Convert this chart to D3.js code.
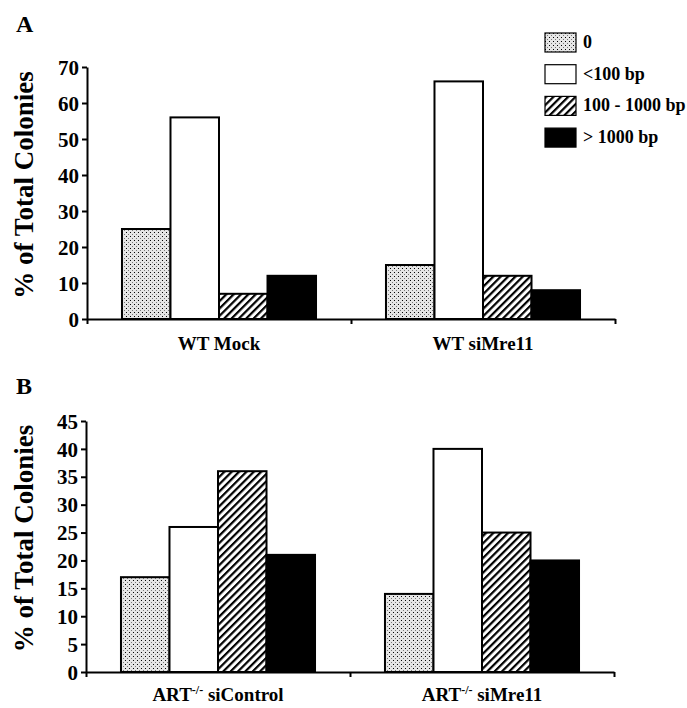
<!DOCTYPE html>
<html>
<head>
<meta charset="utf-8">
<script src="https://cdn.jsdelivr.net/npm/d3@7"></script>
<style>
  body { margin: 0; background: #fff; }
  svg text { font-family: "Liberation Serif", "Times New Roman", serif; font-weight: bold; fill: #000; }
</style>
</head>
<body>
<div class="chart-container"></div>
<script>
// Data
const seriesNames = ["0", "<100 bp", "100 - 1000 bp", "> 1000 bp"];
const seriesFills = ["url(#dots)", "#fff", "url(#hatch)", "#000"];

const categoriesA = ["WT Mock", "WT siMre11"];
const wtMock = [25, 56, 7, 12];
const wtSiMre11 = [15, 66, 12, 8];
const ticksA = [0, 10, 20, 30, 40, 50, 60, 70];

const categoriesB = ["ART-/- siControl", "ART-/- siMre11"];
const artSiControl = [17, 26, 36, 21];
const artSiMre11 = [14, 40, 25, 20];
const ticksB = [0, 5, 10, 15, 20, 25, 30, 35, 40, 45];

const width = 687;
const height = 708;

const svg = d3
  .select(".chart-container")
  .append("svg")
  .attr("width", width)
  .attr("height", height);

////// patterns
const defs = svg.append("defs");

const dots = defs.append("pattern")
  .attr("id", "dots")
  .attr("patternUnits", "userSpaceOnUse")
  .attr("width", 4)
  .attr("height", 4);
dots.append("rect").attr("width", 4).attr("height", 4).attr("fill", "#e6e6e6");
dots.append("rect").attr("x", 0).attr("y", 0).attr("width", 1).attr("height", 1).attr("fill", "#000");
dots.append("rect").attr("x", 2).attr("y", 2).attr("width", 1).attr("height", 1).attr("fill", "#777");

const hatch = defs.append("pattern")
  .attr("id", "hatch")
  .attr("patternUnits", "userSpaceOnUse")
  .attr("width", 5.2)
  .attr("height", 5.2)
  .attr("patternTransform", "rotate(45)");
hatch.append("rect").attr("width", 5.2).attr("height", 5.2).attr("fill", "#fff");
hatch.append("line")
  .attr("x1", 1.1).attr("y1", 0).attr("x2", 1.1).attr("y2", 5.2)
  .attr("stroke", "#000")
  .attr("stroke-width", 2.2);

// draw one panel
function drawPanel(opts) {
  const { letter, letterY, categories, rows, ticks, yMax, left, right, top, bottom, labelY } = opts;

  const g = svg.append("g");

  const x = d3.scaleBand()
    .domain(categories)
    .range([left, right])
    .paddingInner(0.265)
    .paddingOuter(0.1325);

  const xInner = d3.scaleBand()
    .domain(seriesNames)
    .range([0, x.bandwidth()]);

  const y = d3.scaleLinear()
    .domain([0, yMax])
    .range([bottom, top]);

  // bars
  categories.forEach((cat, i) => {
    g.append("g")
      .attr("transform", `translate(${x(cat)},0)`)
      .selectAll("rect")
      .data(rows[i])
      .enter()
      .append("rect")
      .attr("x", (d, j) => xInner(seriesNames[j]))
      .attr("y", (d) => y(d))
      .attr("width", xInner.bandwidth())
      .attr("height", (d) => y(0) - y(d))
      .attr("fill", (d, j) => seriesFills[j])
      .attr("stroke", "#000")
      .attr("stroke-width", 2);
  });

  // y axis
  const yAxis = g.append("g")
    .attr("transform", `translate(${left},0)`)
    .call(d3.axisLeft(y).tickValues(ticks).tickSize(5).tickSizeOuter(0).tickPadding(3));
  yAxis.selectAll("line, path").attr("stroke", "#000").attr("stroke-width", 2);
  yAxis.selectAll("text").style("font-size", "21px").attr("dy", "0.34em");

  // x axis with ticks at category edges
  const xEdges = d3.scaleLinear().domain([0, categories.length]).range([left, right]);
  const xAxis = g.append("g")
    .attr("transform", `translate(0,${bottom})`)
    .call(d3.axisBottom(xEdges).ticks(categories.length).tickSize(5).tickSizeOuter(0).tickFormat(""));
  xAxis.selectAll("line, path").attr("stroke", "#000").attr("stroke-width", 2);

  // category labels (superscript for -/-)
  categories.forEach((cat) => {
    const t = g.append("text")
      .attr("x", x(cat) + x.bandwidth() / 2)
      .attr("y", labelY)
      .attr("text-anchor", "middle")
      .style("font-size", "19px");
    const parts = cat.split("-/-");
    if (parts.length > 1) {
      t.append("tspan").text(parts[0]);
      t.append("tspan").attr("dy", -7).style("font-size", "12px").text("-/-");
      t.append("tspan").attr("dy", 7).text(parts[1]);
    } else {
      t.text(cat);
    }
  });

  // y title
  g.append("text")
    .attr("transform", `translate(33,${(top + bottom) / 2 - 8}) rotate(-90)`)
    .attr("text-anchor", "middle")
    .style("font-size", "27px")
    .text("% of Total Colonies");

  // panel letter
  g.append("text")
    .attr("x", 16)
    .attr("y", letterY)
    .style("font-size", "24px")
    .text(letter);
}

drawPanel({
  letter: "A", letterY: 32,
  categories: categoriesA, rows: [wtMock, wtSiMre11],
  ticks: ticksA, yMax: 70,
  left: 87, right: 615, top: 67, bottom: 319, labelY: 350
});

drawPanel({
  letter: "B", letterY: 394,
  categories: categoriesB, rows: [artSiControl, artSiMre11],
  ticks: ticksB, yMax: 45,
  left: 86, right: 614, top: 421, bottom: 672, labelY: 701
});

// legend
const legend = svg.append("g")
  .attr("class", "legend")
  .attr("transform", "translate(545,33)");

const legendRows = legend.selectAll("g")
  .data(seriesNames)
  .enter()
  .append("g")
  .attr("transform", (d, i) => `translate(0,${i * 31.7})`);

legendRows.append("rect")
  .attr("width", 31)
  .attr("height", 19)
  .attr("fill", (d, i) => seriesFills[i])
  .attr("stroke", "#000")
  .attr("stroke-width", 1.2);

legendRows.append("text")
  .attr("x", 38)
  .attr("y", 15)
  .style("font-size", "18px")
  .text((d) => d);
</script>
</body>
</html>
